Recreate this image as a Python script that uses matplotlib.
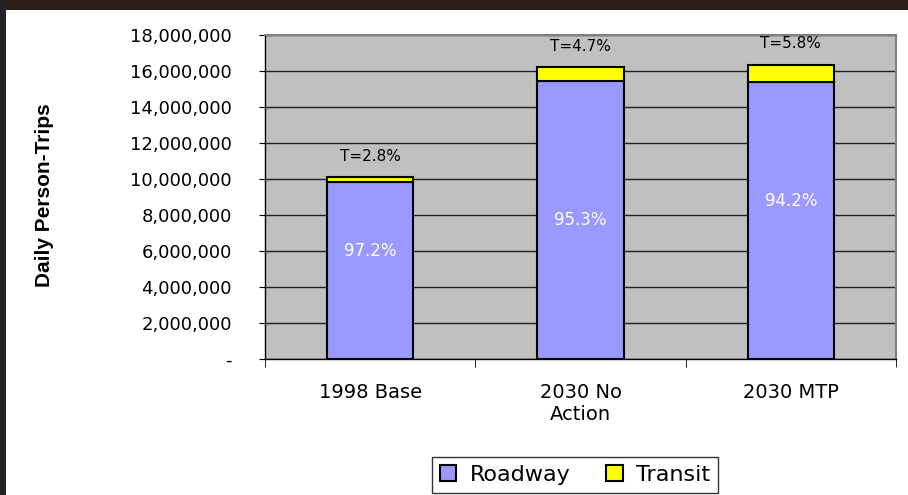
import matplotlib
matplotlib.use("Agg")
import matplotlib.pyplot as plt
from matplotlib.patches import Rectangle

categories = ["1998 Base", "2030 No\nAction", "2030 MTP"]
roadway = [9.83e6, 15.46e6, 15.40e6]
transit = [0.28e6, 0.76e6, 0.95e6]
roadway_labels = ["97.2%", "95.3%", "94.2%"]
transit_labels = ["T=2.8%", "T=4.7%", "T=5.8%"]
label_frac = [0.61, 0.50, 0.57]
yticks = list(range(0, 18000001, 2000000))
ytick_labels = ["-"] + [f"{v:,}" for v in yticks[1:]]

W, H = 908, 495
fig = plt.figure(figsize=(W / 100, H / 100), dpi=100)
fig.patch.set_facecolor("white")
fig.add_artist(Rectangle((0, 1 - 10 / H), 1, 10 / H, transform=fig.transFigure,
                         facecolor="#2b1d18", edgecolor="none", zorder=0))
fig.add_artist(Rectangle((0, 0), 6 / W, 1, transform=fig.transFigure,
                         facecolor="#222226", edgecolor="none", zorder=0))

ax = fig.add_axes([265 / W, 1 - 359 / H, 631 / W, 324 / H])
ax.set_facecolor("#C0C0C0")
x = list(range(len(categories)))
ax.bar(x, roadway, width=0.41, color="#9999FF", edgecolor="black",
       linewidth=1.5, label="Roadway", zorder=3)
ax.bar(x, transit, bottom=roadway, width=0.41, color="#FFFF00",
       edgecolor="black", linewidth=1.5, label="Transit", zorder=3)

for i in x:
    ax.text(i, roadway[i] * label_frac[i], roadway_labels[i], ha="center",
            va="center", color="white", fontsize=12, family="DejaVu Sans", zorder=4)
    ax.text(i, roadway[i] + transit[i] + 1.15e6, transit_labels[i], ha="center",
            va="center", color="black", fontsize=11, family="DejaVu Sans", zorder=4)

ax.set_xlim(-0.5, 2.5)
ax.set_ylim(0, 18e6)
ax.set_yticks(yticks)
ax.set_yticklabels(ytick_labels, fontsize=13, family="DejaVu Sans")
ax.tick_params(axis="y", length=4, pad=20, direction="out", color="black")
ax.yaxis.grid(True, color="#202020", linewidth=1)
ax.set_axisbelow(True)

ax.set_xticks(x)
ax.set_xticklabels(categories, fontsize=14, family="DejaVu Sans")
ax.tick_params(axis="x", which="major", length=0, pad=17)
ax.set_xticks([-0.5, 0.5, 1.5, 2.5], minor=True)
ax.tick_params(axis="x", which="minor", length=6, direction="out", color="black")

for s in ["top", "right"]:
    ax.spines[s].set_color("#808080")
    ax.spines[s].set_linewidth(1.5)
for s in ["left", "bottom"]:
    ax.spines[s].set_color("black")
    ax.spines[s].set_linewidth(1)

fig.text(45 / W, 1 - 195 / H, "Daily Person-Trips", rotation=90, ha="center",
         va="center", fontsize=15, fontweight="bold", family="Liberation Sans")

leg = fig.legend(loc="center", bbox_to_anchor=(575 / W, 1 - 475 / H), ncol=2,
                 frameon=True, fancybox=False, edgecolor="black",
                 handlelength=0.75, handleheight=0.75, handletextpad=0.6,
                 columnspacing=1.6, borderpad=0.35, borderaxespad=0,
                 prop={"family": "DejaVu Sans", "size": 16})
leg.get_frame().set_linewidth(1)

fig.savefig("out.png", dpi=100)
